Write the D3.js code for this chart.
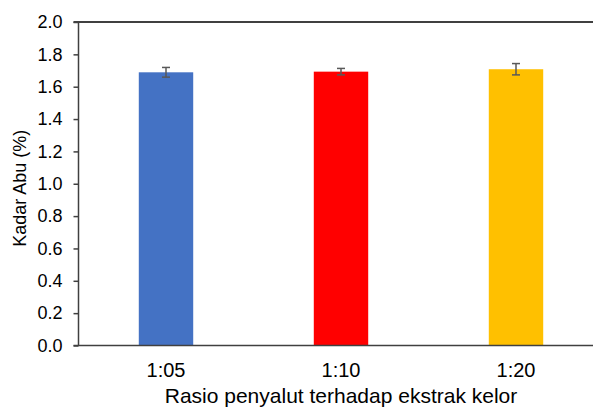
<!DOCTYPE html>
<html>
<head>
<meta charset="utf-8">
<script src="https://cdn.jsdelivr.net/npm/d3@7"></script>
<style>
  html, body { margin: 0; padding: 0; background: #fff; }
  svg { display: block; font-family: "Liberation Sans", Arial, sans-serif; }
</style>
</head>
<body>
<script>
const categories = ["1:05", "1:10", "1:20"];
const values = [1.689, 1.693, 1.708];
const errors = [0.030, 0.020, 0.035];
const colors = ["#4472C4", "#FF0000", "#FFC000"];
const yTicks = [0, 0.2, 0.4, 0.6, 0.8, 1.0, 1.2, 1.4, 1.6, 1.8, 2.0];
const yTitle = "Kadar Abu (%)";
const xTitle = "Rasio penyalut terhadap ekstrak kelor";

(function () {
const W = 593, H = 408;
const mLeft = 78.5, mRight = 603.5, mTop = 22, mBottom = 345.5;

const svg = d3.select("body").append("svg").attr("width", W).attr("height", H);

const x = d3.scaleBand().domain(categories).range([mLeft, mRight]).paddingInner(0.689).paddingOuter(0.689 / 2);
const y = d3.scaleLinear().domain([0, 2.0]).range([mBottom, mTop]);

// bars
svg.selectAll("rect.bar").data(categories).enter().append("rect")
  .attr("class", "bar")
  .attr("x", d => x(d))
  .attr("width", x.bandwidth())
  .attr("y", (d, i) => y(values[i]))
  .attr("height", (d, i) => y(0) - y(values[i]))
  .attr("fill", (d, i) => colors[i]);

// error bars
const eb = svg.selectAll("g.err").data(categories).enter().append("g").attr("class", "err")
  .attr("stroke", "#595959").attr("stroke-width", 1.5).attr("fill", "none");
eb.append("line")
  .attr("x1", d => x(d) + x.bandwidth() / 2).attr("x2", d => x(d) + x.bandwidth() / 2)
  .attr("y1", (d, i) => y(values[i] + errors[i])).attr("y2", (d, i) => y(values[i] - errors[i]));
eb.append("line")
  .attr("x1", d => x(d) + x.bandwidth() / 2 - 4).attr("x2", d => x(d) + x.bandwidth() / 2 + 4)
  .attr("y1", (d, i) => y(values[i] + errors[i])).attr("y2", (d, i) => y(values[i] + errors[i]));
eb.append("line")
  .attr("x1", d => x(d) + x.bandwidth() / 2 - 4).attr("x2", d => x(d) + x.bandwidth() / 2 + 4)
  .attr("y1", (d, i) => y(values[i] - errors[i])).attr("y2", (d, i) => y(values[i] - errors[i]));

// top border line
svg.append("line")
  .attr("x1", mLeft - 5).attr("x2", W).attr("y1", y(2.0)).attr("y2", y(2.0))
  .attr("stroke", "#404040").attr("stroke-width", 2);

// y axis
const yAxis = d3.axisLeft(y).tickValues(yTicks).tickFormat(d3.format(".1f")).tickSize(5).tickPadding(11);
const gy = svg.append("g").attr("transform", `translate(${mLeft},0)`).call(yAxis);
gy.select(".domain").attr("stroke", "#404040").attr("stroke-width", 1.5).attr("d", `M0,${mTop}V${mBottom}`);
gy.selectAll(".tick line").attr("stroke", "#404040").attr("stroke-width", 1.5);
gy.selectAll(".tick text").attr("font-size", 18).attr("fill", "#000").attr("font-family", "Liberation Sans, Arial, sans-serif");

// x axis
const xAxis = d3.axisBottom(x).tickSize(0).tickPadding(0);
const gx = svg.append("g").attr("transform", `translate(0,${mBottom})`).call(xAxis);
gx.select(".domain").attr("stroke", "#404040").attr("stroke-width", 1.5).attr("d", `M${mLeft - 5},0H${W}`);
gx.selectAll(".tick text").attr("font-size", 20).attr("fill", "#000")
  .attr("font-family", "Liberation Sans, Arial, sans-serif")
  .attr("dy", null).attr("y", 31.5);

// titles
svg.append("text")
  .attr("transform", `translate(26,${(mTop + mBottom) / 2 + 4.5}) rotate(-90)`)
  .attr("text-anchor", "middle").attr("font-size", 18).attr("fill", "#000")
  .text(yTitle);
svg.append("text")
  .attr("x", (mLeft + mRight) / 2).attr("y", 403)
  .attr("text-anchor", "middle").attr("font-size", 21).attr("fill", "#000")
  .text(xTitle);
})();
</script>
</body>
</html>
